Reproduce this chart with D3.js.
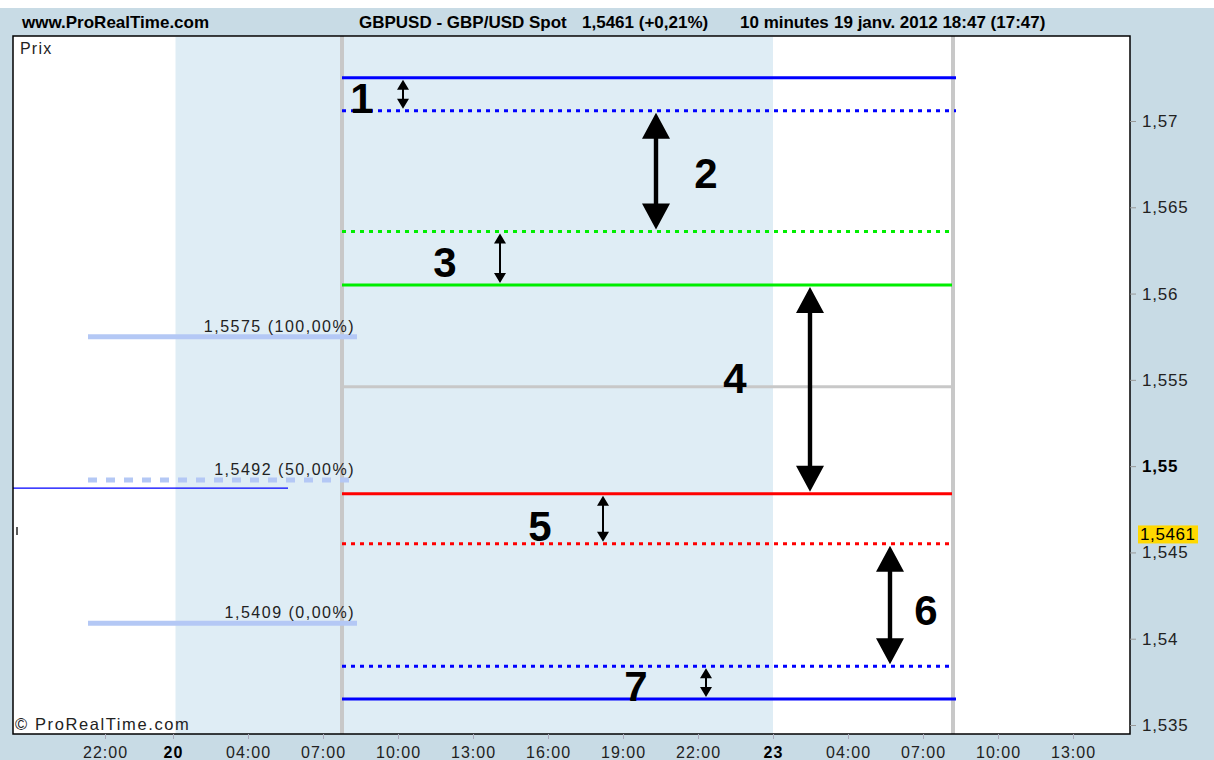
<!DOCTYPE html>
<html>
<head>
<meta charset="utf-8">
<script src="https://cdn.jsdelivr.net/npm/d3@7"></script>
<style>
  body { margin: 0; background: #fff; }
  svg { display: block; font-family: "Liberation Sans", Arial, sans-serif; }
</style>
</head>
<body>
<script>
// Price levels of the drawn lines (GBP/USD), top to bottom
var levelPrices = [1.5725, 1.5706, 1.5636, 1.5605, 1.5546, 1.5484, 1.5455, 1.5384, 1.5365];
var levelColors = ["#0000ff", "#0000ff", "#00ee00", "#00ee00", "#c8c8c8", "#ff0000", "#ff0000", "#0000ff", "#0000ff"];
var levelDotted = [false, true, true, false, false, false, true, true, false];
var levelEnd = [31.32, 31.32, 31.16, 31.16, 31.16, 31.16, 31.16, 31.16, 31.32];
var levelStart = 6.76;

// Retracement levels on the left
var fibPrices = [1.5575, 1.5492, 1.5409];
var fibLabels = ["1,5575 (100,00%)", "1,5492 (50,00%)", "1,5409 (0,00%)"];
var fibDashed = [false, true, false];

// Numbered arrows: from level index to level index
var arrowNames = ["1", "2", "3", "4", "5", "6", "7"];
var arrowFrom = [0, 1, 2, 3, 5, 6, 7];
var arrowTo = [1, 2, 3, 5, 6, 7, 8];
var arrowHours = [9.2, 19.32, 13.08, 25.48, 17.2, 28.68, 21.32];
var arrowBig = [false, true, false, true, false, true, false];
var labelHours = [7.56, 21.32, 10.88, 22.48, 14.68, 30.12, 18.52];
var labelPrices = [1.57133, 1.56699, 1.56183, 1.55511, 1.54653, 1.54166, 1.53726];

// Axes
var yTicks = [1.535, 1.54, 1.545, 1.55, 1.555, 1.56, 1.565, 1.57];
var xTickHours = [-2.72, 0, 3, 6, 9, 12, 15, 18, 21, 24, 27, 30, 33, 36];
var xTickLabels = ["22:00", "20", "04:00", "07:00", "10:00", "13:00", "16:00", "19:00", "22:00", "23", "04:00", "07:00", "10:00", "13:00"];
var dayTicks = ["20", "23"];
var vLines = [6.76, 31.2];   // session separators
var shade = [0.1, 24];        // shaded day
var lastPrice = 1.5461;
var refLine = {price: 1.54873, from: -6.4, to: 4.6};

var W = 1214, H = 760;
var pLeft = 13, pRight = 1130, pTop = 36, pBottom = 734;
var bandColor = "#c8dbe5";

var svg = d3.select("body").append("svg").attr("width", W).attr("height", H);

// background bands
svg.append("rect").attr("width", W).attr("height", H).attr("fill", bandColor);
svg.append("rect").attr("width", W).attr("height", 8).attr("fill", "#fff");

var x = d3.scaleLinear().domain([-6.4, 38.28]).range([pLeft, pRight]);
var y = d3.scaleLinear().domain([1.535, 1.57]).range([725, 121]);

// plot area
svg.append("rect")
    .attr("x", pLeft).attr("y", pTop)
    .attr("width", pRight - pLeft).attr("height", pBottom - pTop)
    .attr("fill", "#fff");

var plot = svg.append("g");

plot.append("rect")
    .attr("x", x(shade[0])).attr("y", pTop + 1)
    .attr("width", x(shade[1]) - x(shade[0])).attr("height", pBottom - pTop - 1)
    .attr("fill", "#dfedf5");

plot.selectAll("line.vsep")
    .data(vLines)
    .enter().append("line")
        .attr("class", "vsep")
        .attr("x1", d => x(d)).attr("x2", d => x(d))
        .attr("y1", pTop).attr("y2", pBottom)
        .attr("stroke", "#c8c8c8").attr("stroke-width", 4);

// fib lines
plot.selectAll("line.fib")
    .data(fibPrices)
    .enter().append("line")
        .attr("class", "fib")
        .attr("x1", x(-3.4))
        .attr("x2", (d, i) => fibDashed[i] ? x(7.1) : x(7.36))
        .attr("y1", d => y(d)).attr("y2", d => y(d))
        .attr("stroke", "#b4c8f5").attr("stroke-width", 5)
        .attr("stroke-dasharray", (d, i) => fibDashed[i] ? "9,9" : null);

plot.selectAll("text.fib")
    .data(fibPrices)
    .enter().append("text")
        .attr("class", "fib")
        .attr("x", x(7.28))
        .attr("y", d => y(d) - 5)
        .attr("text-anchor", "end")
        .style("font-size", "16px")
        .style("letter-spacing", "1.5px")
        .attr("fill", "#222")
        .text((d, i) => fibLabels[i]);

plot.append("line")
    .attr("x1", x(refLine.from)).attr("x2", x(refLine.to))
    .attr("y1", y(refLine.price)).attr("y2", y(refLine.price))
    .attr("stroke", "#0000ff").attr("stroke-width", 1.2);

// tiny price stub at the left edge
plot.append("line")
    .attr("x1", x(-6.24)).attr("x2", x(-6.24))
    .attr("y1", y(1.54647)).attr("y2", y(1.54601))
    .attr("stroke", "#000").attr("stroke-width", 1.3);

// level lines
plot.selectAll("line.level")
    .data(levelPrices)
    .enter().append("line")
        .attr("class", "level")
        .attr("x1", x(levelStart))
        .attr("x2", (d, i) => x(levelEnd[i]))
        .attr("y1", d => y(d)).attr("y2", d => y(d))
        .attr("stroke", (d, i) => levelColors[i])
        .attr("stroke-width", 3)
        .attr("stroke-dasharray", (d, i) => levelDotted[i] ? "4,5" : null);

// double headed arrows
function arrowPath(cx, y1, y2, big) {
    var hw = big ? 14 : 6, hl = big ? 26 : 10, sw = big ? 2.2 : 1;
    return "M" + cx + "," + y1 +
        "L" + (cx + hw) + "," + (y1 + hl) + "L" + (cx + sw) + "," + (y1 + hl) +
        "L" + (cx + sw) + "," + (y2 - hl) + "L" + (cx + hw) + "," + (y2 - hl) +
        "L" + cx + "," + y2 +
        "L" + (cx - hw) + "," + (y2 - hl) + "L" + (cx - sw) + "," + (y2 - hl) +
        "L" + (cx - sw) + "," + (y1 + hl) + "L" + (cx - hw) + "," + (y1 + hl) + "Z";
}

plot.selectAll("path.arrow")
    .data(arrowNames)
    .enter().append("path")
        .attr("class", "arrow")
        .attr("d", (d, i) => arrowPath(x(arrowHours[i]),
            y(levelPrices[arrowFrom[i]]) + 2, y(levelPrices[arrowTo[i]]) - 2, arrowBig[i]))
        .attr("fill", "#000");

plot.selectAll("text.num")
    .data(arrowNames)
    .enter().append("text")
        .attr("class", "num")
        .attr("x", (d, i) => x(labelHours[i]))
        .attr("y", (d, i) => y(labelPrices[i]))
        .attr("dy", "0.36em")
        .attr("text-anchor", "middle")
        .style("font-size", "42px")
        .style("font-weight", "bold")
        .attr("fill", "#000")
        .text(d => d);

// plot border
svg.append("rect")
    .attr("x", pLeft).attr("y", pTop)
    .attr("width", pRight - pLeft).attr("height", pBottom - pTop)
    .attr("fill", "none").attr("stroke", "#000").attr("stroke-width", 1.5);

// y axis
var yAxis = svg.append("g")
    .attr("transform", "translate(" + pRight + ",0)")
    .call(d3.axisRight(y).tickValues(yTicks).tickSize(6).tickPadding(6)
        .tickFormat(d => (+d.toFixed(3)).toString().replace(".", ",")));
yAxis.select(".domain").remove();
yAxis.selectAll("line").attr("stroke", "#999");
yAxis.selectAll("text")
    .style("font-size", "17px")
    .style("letter-spacing", "0.8px")
    .style("font-family", "'Liberation Sans', Arial, sans-serif")
    .style("font-weight", d => d === 1.55 ? "bold" : "normal")
    .attr("fill", d => d === 1.55 ? "#000" : "#222");

// last price tag
var tag = svg.append("g").attr("transform", "translate(1138," + y(lastPrice) + ")");
tag.append("rect").attr("x", 0).attr("y", -8).attr("width", 60).attr("height", 18)
    .attr("fill", "#ffd800");
tag.append("text").attr("x", 2).attr("y", 1).attr("dy", "0.35em")
    .style("font-size", "17px").style("letter-spacing", "0.6px")
    .attr("fill", "#000")
    .text(lastPrice.toString().replace(".", ","));

// x axis
var xAxis = svg.append("g")
    .attr("transform", "translate(0," + pBottom + ")")
    .call(d3.axisBottom(x).tickValues(xTickHours).tickSize(5).tickPadding(8)
        .tickFormat((d, i) => xTickLabels[i]));
xAxis.select(".domain").remove();
xAxis.selectAll("line").attr("stroke", "#aab");
xAxis.selectAll("text")
    .style("font-size", "16px")
    .style("letter-spacing", "1px")
    .style("font-family", "'Liberation Sans', Arial, sans-serif")
    .style("font-weight", (d, i) => dayTicks.indexOf(xTickLabels[i]) >= 0 ? "bold" : "normal")
    .attr("fill", (d, i) => dayTicks.indexOf(xTickLabels[i]) >= 0 ? "#000" : "#222");

// header
svg.append("text").attr("x", 22).attr("y", 28)
    .style("font-size", "17px").style("font-weight", "bold").attr("fill", "#000")
    .text("www.ProRealTime.com");
var headerParts = [[359, "GBPUSD - GBP/USD Spot"], [582, "1,5461 (+0,21%)"], [740, "10 minutes"], [834, "19 janv. 2012 18:47 (17:47)"]];
svg.selectAll("text.head")
    .data(headerParts)
    .enter().append("text")
        .attr("class", "head")
        .attr("x", d => d[0]).attr("y", 28)
        .style("font-size", "17px").style("font-weight", "bold").attr("fill", "#000")
        .text(d => d[1]);

svg.append("text").attr("x", 20).attr("y", 54)
    .style("font-size", "16px").style("letter-spacing", "1.2px").attr("fill", "#222")
    .text("Prix");
svg.append("text").attr("x", 15).attr("y", 730)
    .style("font-size", "16.5px").style("letter-spacing", "1.6px").attr("fill", "#222")
    .text("© ProRealTime.com");
</script>
</body>
</html>
